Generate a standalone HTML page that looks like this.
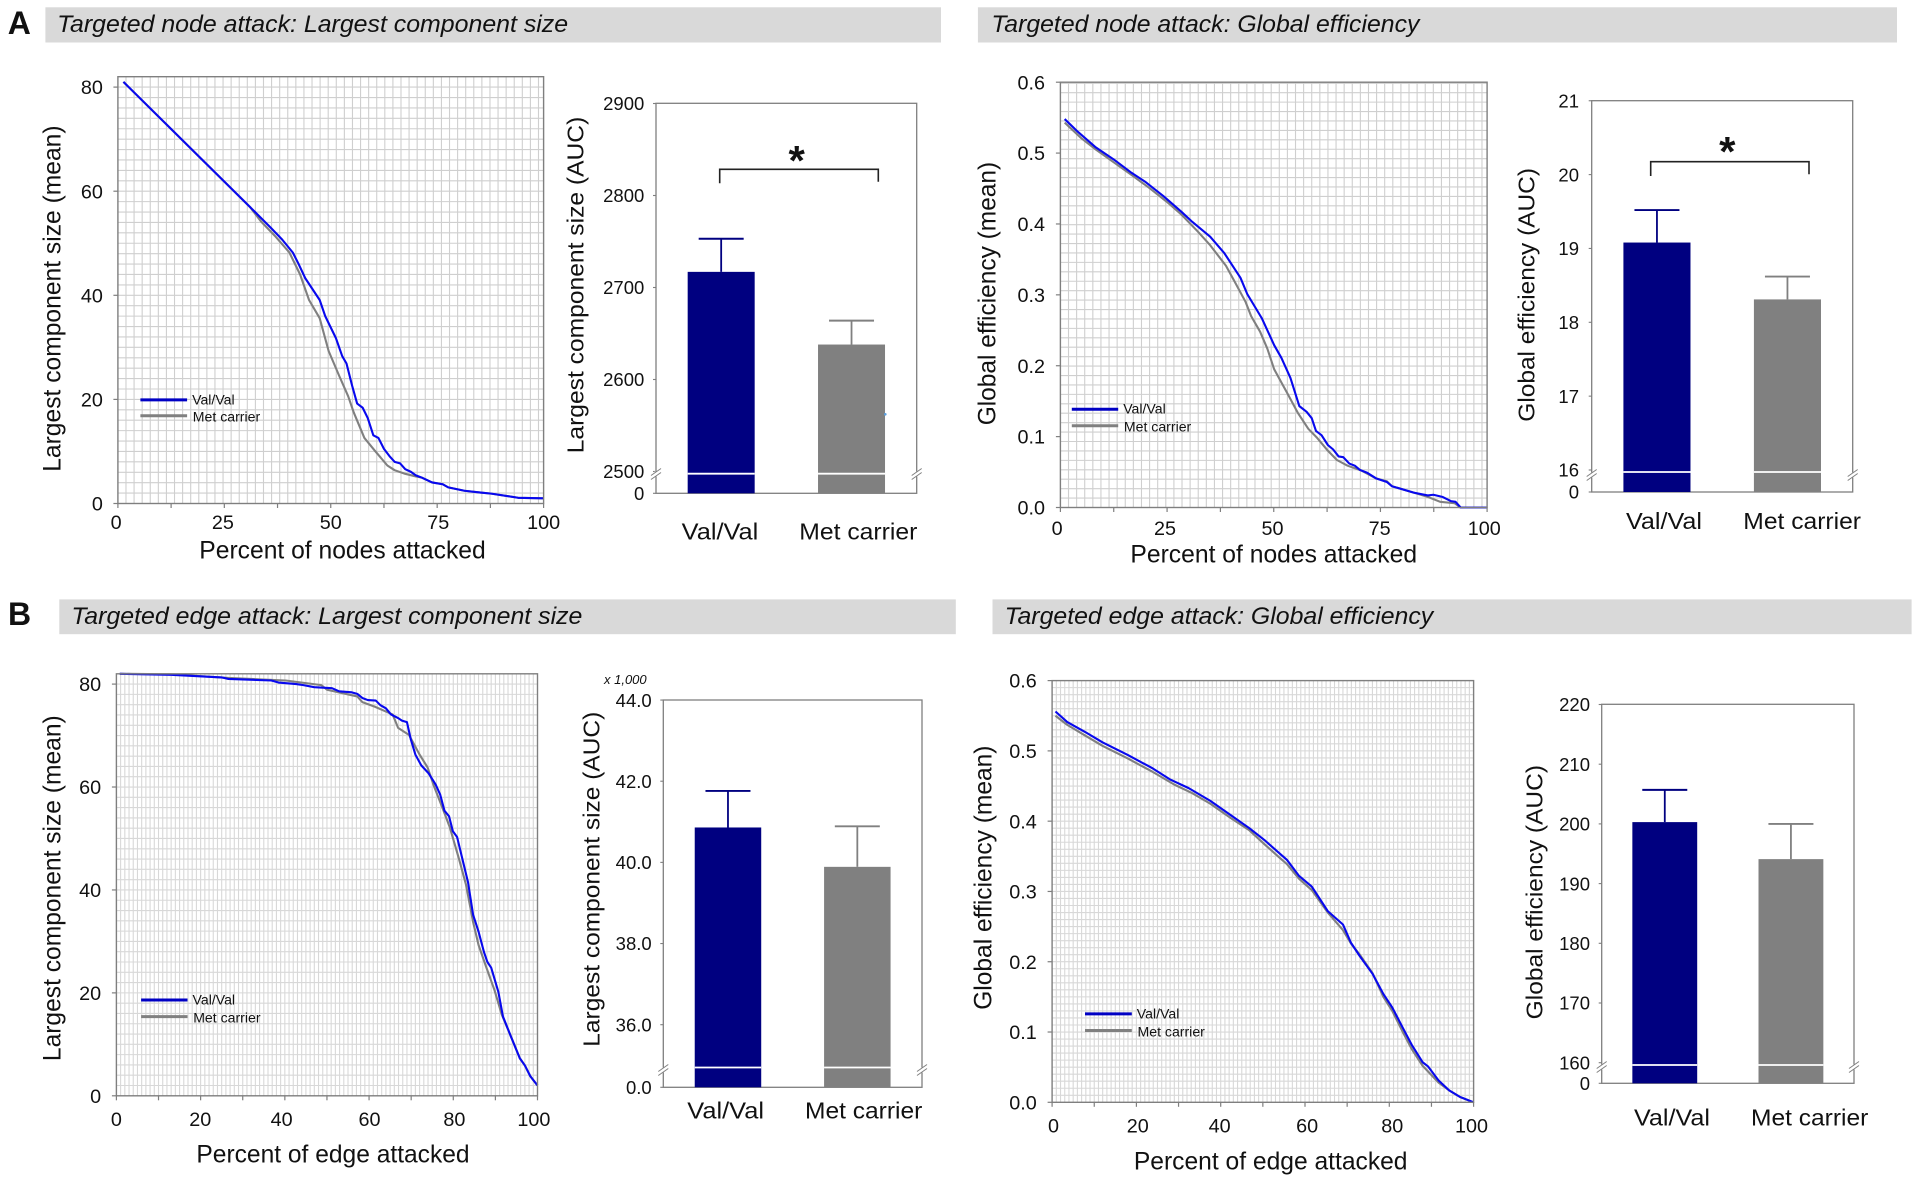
<!DOCTYPE html>
<html lang="en">
<head>
<meta charset="utf-8">
<title>Targeted attack network robustness</title>
<style>
html,body{margin:0;padding:0;background:#fff;width:1914px;height:1182px;overflow:hidden}
svg{display:block;filter:blur(.35px)}
text{font-family:"Liberation Sans",Arial,sans-serif;fill:#111}
</style>
</head>
<body>
<svg id="figure" xmlns="http://www.w3.org/2000/svg" width="1914" height="1182" viewBox="0 0 1914 1182">
<rect width="1914" height="1182" fill="#fff"/>
<text x="7.7" y="33.8" font-size="32" font-weight="700">A</text>
<text x="8" y="625.1" font-size="32" font-weight="700">B</text>
<rect x="45.4" y="7.3" width="895.6" height="35.2" fill="#d9d9d9"/>
<rect x="977.9" y="7.3" width="919.1" height="35.2" fill="#d9d9d9"/>
<rect x="59.3" y="599.4" width="896.5" height="34.8" fill="#d9d9d9"/>
<rect x="992.5" y="599.4" width="919.1" height="34.8" fill="#d9d9d9"/>
<text x="57.1" y="32" font-size="24" font-style="italic" textLength="511" lengthAdjust="spacingAndGlyphs">Targeted node attack: Largest component size</text>
<text x="991.4" y="32" font-size="24" font-style="italic" textLength="428" lengthAdjust="spacingAndGlyphs">Targeted node attack: Global efficiency</text>
<text x="71.4" y="624" font-size="24" font-style="italic" textLength="511" lengthAdjust="spacingAndGlyphs">Targeted edge attack: Largest component size</text>
<text x="1004.6" y="624" font-size="24" font-style="italic" textLength="428.6" lengthAdjust="spacingAndGlyphs">Targeted edge attack: Global efficiency</text>
</svg>
<script>
// ---------- shared labels ----------
const seriesNames = ['Val/Val', 'Met carrier'];
const barCategories = ['Val/Val', 'Met carrier'];

// ---------- A: node attack, largest component (line) ----------
const nodeSizeValPct = [1.3,31,36,38.6,41.1,42.4,44,47.4,48.7,51.2,52.7,53.7,55,56.2,57.5,58.7,60,61.2,62.5,63.8,65,66.3,67.5,68.8,70,71.3,73.8,76.3,77.6,81.4,85.2,87.7,94,100];
const nodeSizeVal = [81,57,52.9,50.7,48.2,46.1,43.3,39.1,36,31.8,28.3,26.9,22.7,19.2,18.4,16.4,13.1,12.6,10.5,9.1,8,7.7,6.6,6.1,5.4,5,4.05,3.7,3.1,2.45,2.1,1.9,1.1,1];
const nodeSizeMetPct = [1.3,31,33.6,36.9,40.3,42.8,44.9,47.4,49.5,52,54.1,55.4,57.9,60.4,63.3,65,67.5,70,71.3,73.8,76.3,77.6,81.4,85.2,87.7,94,100];
const nodeSizeMet = [81,57,54.2,51.4,48.2,44,39.1,35.6,29.3,24.5,20.6,17.5,12.6,10.1,7.3,6.4,5.7,5.2,5,4.05,3.7,3.1,2.45,2.1,1.9,1.1,1];
const nodeSizeYTicks = [0,20,40,60,80];
const nodeSizeXTicks = [0,12.5,25,37.5,50,62.5,75,87.5,100];
const nodeSizeXLabels = [0,25,50,75,100];

// ---------- A: node attack, largest component (bars) ----------
const nodeSizeAuc = [2717,2638];
const nodeSizeAucErr = [2753,2664];
const nodeSizeAucTicks = [2500,2600,2700,2800,2900];

// ---------- A: node attack, efficiency (line) ----------
const nodeEffValPct = [1,4.1,8.3,12.5,16.7,20,24.2,28.4,30.9,35.1,38.4,42.2,43.8,47.2,50.1,51.8,53.9,56,57.7,58.9,59.9,61.2,62.7,63.9,65.2,66.3,67.7,69,70.2,71.9,74,76.5,77.7,82.8,86.1,87.4,89.5,91.5,92.6,93.8,100];
const nodeEffVal = [.548,.53,.508,.491,.472,.459,.439,.417,.403,.382,.359,.324,.301,.267,.229,.211,.183,.143,.135,.126,.108,.102,.088,.082,.072,.071,.062,.059,.053,.049,.041,.036,.03,.021,.017,.018,.015,.009,.008,0,0];
const nodeEffMetPct = [1,4.9,8.3,12.5,16.7,20.8,25,28.4,32.1,35.1,38.8,40.9,43.4,44.7,46.8,48.5,50.1,53.1,55.6,58.1,60.2,62.7,64.8,67.3,70.6,74,76.5,77.7,82.8,86.1,89,92.4,93.8,100];
const nodeEffMet = [.543,.521,.505,.487,.469,.451,.431,.413,.39,.37,.341,.318,.29,.27,.248,.224,.195,.162,.134,.111,.098,.08,.067,.059,.052,.041,.037,.03,.021,.015,.008,.006,0,0];
const nodeEffYTicks = [0,.1,.2,.3,.4,.5,.6];
const nodeEffXTicks = [0,12.5,25,37.5,50,62.5,75,87.5,100];
const nodeEffXLabels = [0,25,50,75,100];

// ---------- A: node attack, efficiency (bars) ----------
const nodeEffAuc = [19.08,18.31];
const nodeEffAucErr = [19.52,18.62];
const nodeEffAucTicks = [16,17,18,19,20,21];

// ---------- B: edge attack, largest component (line) ----------
const edgeSizeValPct = [.8,13,25,26.6,36.8,38.5,42.7,44.4,47,51.2,52.9,55.9,57.2,58.4,59.7,61.6,62.7,64,65.2,66.9,67.8,69,69.9,71,72.4,74.1,75.8,76.9,77.9,79,79.9,80.9,82.2,83.5,84.7,86,87.3,88.1,89,90.7,91.8,93.6,95.8,97,98.3,100];
const edgeSizeVal = [82,81.8,81.3,81,80.7,80.3,80,79.8,79.4,79.2,78.6,78.4,78.1,77.3,76.9,76.8,75.9,75.3,74.1,73.4,72.9,72.6,69.3,66.3,64.2,62.7,60.5,58.5,55.4,54.3,51.4,50.3,45.9,41.5,35.2,31.9,27.9,26,24.9,20.2,15.4,11.7,7.3,5.9,3.8,2];
const edgeSizeMetPct = [.8,13,26.6,40.2,48.7,50,57.2,58.4,61.4,65.6,66.9,69.5,72,73.9,75.4,77.5,79.2,81.3,83,84.7,86,87.7,89.8,91.5,93.2,95.8,97,98.3,100];
const edgeSizeMet = [82,81.9,81.2,80.7,79.8,78.9,77.6,76.5,75.6,74.1,71.5,70.1,66.3,63.8,60.2,55.8,52.1,46.2,41.1,33.8,29.3,25.3,20.5,15.8,12.5,7.3,5.9,3.8,2];
const edgeSizeYTicks = [0,20,40,60,80];
const edgeSizeXTicks = [0,10,20,30,40,50,60,70,80,90,100];
const edgeSizeXLabels = [0,20,40,60,80,100];

// ---------- B: edge attack, largest component (bars) ----------
const edgeSizeAuc = [40.86,39.89];
const edgeSizeAucErr = [41.76,40.89];
const edgeSizeAucTicks = [36,38,40,42,44];

// ---------- B: edge attack, efficiency (line) ----------
const edgeEffValPct = [.8,3.6,7.8,12,18,23.9,28.1,32.4,37.5,42.5,46.8,50.6,53.6,55.7,58.6,61.6,65.4,69,70.9,73,76,78.6,80.7,83.2,85.3,87.9,89.2,91.7,94.2,96.8,100];
const edgeEffVal = [.556,.541,.527,.512,.494,.475,.459,.447,.429,.408,.39,.372,.356,.345,.322,.307,.272,.253,.227,.208,.183,.154,.135,.106,.082,.057,.051,.031,.017,.0075,0];
const edgeEffMetPct = [.8,3.6,7.8,12,18,23.9,29,33.2,37.5,42.5,46.8,50.6,53.6,55.7,58.6,61.6,65.4,69,70.9,73,76,78.6,80.7,83.2,85.3,87.9,91.7,94.2,96.8,100];
const edgeEffMet = [.55,.537,.522,.507,.489,.47,.452,.44,.425,.404,.387,.366,.35,.339,.318,.302,.27,.245,.226,.21,.184,.15,.13,.1,.076,.052,.028,.017,.0075,0];
const edgeEffYTicks = [0,.1,.2,.3,.4,.5,.6];
const edgeEffXTicks = [0,10,20,30,40,50,60,70,80,90,100];
const edgeEffXLabels = [0,20,40,60,80,100];

// ---------- B: edge attack, efficiency (bars) ----------
const edgeEffAuc = [200.3,194.1];
const edgeEffAucErr = [205.7,200];
const edgeEffAucTicks = [160,170,180,190,200,210,220];

// ---------- drawing ----------
const NS = 'http://www.w3.org/2000/svg';
const root = document.getElementById('figure');
const BLUE = '#0808ee', LEGEND_BLUE = '#0000c4', GREY = '#808080', NAVY = '#000080', AXIS = '#7f7f7f';

function make(parent, tag, name, attrs, content) {
  const el = document.createElementNS(NS, tag);
  
  
  for (const k in attrs) el.setAttribute(k, attrs[k]);
  if (content !== undefined) el.textContent = content;
  parent.appendChild(el);
  return el;
}
function line(parent, name, x1, y1, x2, y2, stroke, w) {
  return make(parent, 'line', name, {x1, y1, x2, y2, stroke, 'stroke-width': w});
}
function yTitle(parent, text, x, y0, y1, fs) {
  make(parent, 'text', 'y-axis-title', {
    x, y: y1, 'font-size': fs || 23.5, transform: 'rotate(-90 ' + x + ' ' + y1 + ')',
    textLength: y1 - y0, lengthAdjust: 'spacingAndGlyphs'
  }, text);
}

function lineChart(c) {
  const g = make(root, 'g', c.name, {});
  const x = v => c.left + (v / 100) * (c.right - c.left);
  const y = v => c.bottom - (v / c.yMax) * (c.bottom - c.top);
  make(g, 'rect', 'plot-background', {x: c.left, y: c.top, width: c.right - c.left, height: c.bottom - c.top, fill: '#fff'});
  const grid = make(g, 'g', 'grid-lines', {stroke: c.gridColor, 'stroke-width': c.gridWidth});
  for (let v = c.gridX; v < 100; v += c.gridX) {
    line(grid, 'vertical-grid-line', x(v), c.top, x(v), c.bottom, c.gridColor, c.gridWidth);
  }
  for (let v = c.gridY; v < c.yMax; v += c.gridY) {
    line(grid, 'horizontal-grid-line', c.left, y(v), c.right, y(v), c.gridColor, c.gridWidth);
  }
  make(g, 'polyline', 'series-met-carrier', {
    points: c.metPct.map((p, i) => x(p).toFixed(2) + ',' + y(c.met[i]).toFixed(2)).join(' '),
    fill: 'none', stroke: GREY, 'stroke-width': 2.1, 'stroke-linejoin': 'round'
  });
  make(g, 'polyline', 'series-val-val', {
    points: c.valPct.map((p, i) => x(p).toFixed(2) + ',' + y(c.val[i]).toFixed(2)).join(' '),
    fill: 'none', stroke: BLUE, 'stroke-width': 2.1, 'stroke-linejoin': 'round'
  });
  make(g, 'rect', 'plot-frame', {x: c.left, y: c.top, width: c.right - c.left, height: c.bottom - c.top, fill: 'none', stroke: AXIS, 'stroke-width': 1.4});
  c.yTicks.forEach(t => {
    line(g, 'y-tick', c.left - 4.5, y(t), c.left, y(t), AXIS, 1.2);
    make(g, 'text', 'y-tick-label', {x: c.labelRight, y: y(t) + 7.1, 'font-size': 19.8, 'text-anchor': 'end'}, c.yFmt(t));
  });
  c.xTicks.forEach(t => {
    line(g, 'x-tick', x(t), c.bottom, x(t), c.bottom + 4.5, AXIS, 1.2);
  });
  c.xLabels.forEach((t, i) => {
    make(g, 'text', 'x-tick-label', {x: x(t) + c.xNudge[i], y: c.xLabelY, 'font-size': 19.8, 'text-anchor': 'middle'}, String(t));
  });
  make(g, 'text', 'x-axis-title', {x: c.xTitle[0], y: c.xTitle[2], 'font-size': 25, textLength: c.xTitle[1] - c.xTitle[0], lengthAdjust: 'spacingAndGlyphs'}, c.xTitleText);
  yTitle(g, c.yTitleText, c.yTitle[0], c.yTitle[1], c.yTitle[2], 25);
  const lg = make(g, 'g', 'legend', {});
  line(lg, 'legend-swatch-val-val', c.legend.x0, c.legend.y0, c.legend.x1, c.legend.y0, LEGEND_BLUE, 3);
  line(lg, 'legend-swatch-met-carrier', c.legend.x0, c.legend.y1, c.legend.x1, c.legend.y1, GREY, 3);
  make(lg, 'text', 'legend-label-val-val', {x: c.legend.x1 + 5, y: c.legend.y0 + 4.4, 'font-size': 14.1}, seriesNames[0]);
  make(lg, 'text', 'legend-label-met-carrier', {x: c.legend.x1 + 5.7, y: c.legend.y1 + 5.9, 'font-size': 14.1}, seriesNames[1]);
}

function barChart(c) {
  const g = make(root, 'g', c.name, {});
  const w = c.right - c.left;
  const bx = i => c.left + w * (0.25 + 0.5 * i);
  const bw = w * 0.257;
  const y = v => c.y0 - (v - c.domain0) * c.k;
  const colors = [NAVY, GREY];
  make(g, 'rect', 'plot-frame', {x: c.left, y: c.top, width: w, height: c.bottom - c.top, fill: 'none', stroke: AXIS, 'stroke-width': 1.3});
  c.values.forEach((v, i) => {
    const name = i === 0 ? 'val-val' : 'met-carrier';
    line(g, 'error-stem-' + name, bx(i), y(c.errs[i]), bx(i), y(v), colors[i], 1.8);
    line(g, 'error-cap-' + name, bx(i) - 22.5, y(c.errs[i]), bx(i) + 22.5, y(c.errs[i]), colors[i], 1.9);
    make(g, 'rect', 'bar-' + name, {x: bx(i) - bw / 2, y: y(v), width: bw, height: c.bottom - y(v), fill: colors[i]});
    line(g, 'bar-break-' + name, bx(i) - bw / 2, c.breakY, bx(i) + bw / 2, c.breakY, '#fff', 1.8);
  });
  c.ticks.forEach(t => {
    line(g, 'y-tick', c.left - 3, y(t), c.left, y(t), AXIS, 1.1);
    make(g, 'text', 'y-tick-label', {x: c.labelRight, y: y(t) + 6.7, 'font-size': 18.5, 'text-anchor': 'end'}, c.fmt(t));
  });
  line(g, 'y-tick-zero', c.left - 3, c.bottom, c.left, c.bottom, AXIS, 1.1);
  make(g, 'text', 'y-tick-label-zero', {x: c.labelRight, y: c.bottom + 6.7, 'font-size': 18.5, 'text-anchor': 'end'}, c.zeroLabel);
  [c.left, c.right].forEach(ax => {
    make(g, 'rect', 'axis-break-gap', {x: ax - 1.5, y: c.breakMark - 2.5, width: 3, height: 5, fill: '#fff'});
    line(g, 'axis-break-mark', ax - 5, c.breakMark + 1.5, ax + 5, c.breakMark - 5.5, AXIS, 1);
    line(g, 'axis-break-mark', ax - 5, c.breakMark + 5.5, ax + 5, c.breakMark - 1.5, AXIS, 1);
  });
  barCategories.forEach((t, i) => {
    const p = c.cats[i];
    make(g, 'text', 'category-label', {x: p[0], y: c.catY, 'font-size': 23.5, textLength: p[1] - p[0], lengthAdjust: 'spacingAndGlyphs'}, t);
  });
  yTitle(g, c.yTitleText, c.yTitle[0], c.yTitle[1], c.yTitle[2]);
  if (c.bracket) {
    const b = c.bracket;
    make(g, 'polyline', 'significance-bracket', {
      points: b.x0 + ',' + b.yL + ' ' + b.x0 + ',' + b.y + ' ' + b.x1 + ',' + b.y + ' ' + b.x1 + ',' + b.yR,
      fill: 'none', stroke: '#222', 'stroke-width': 1.6
    });
    make(g, 'text', 'significance-asterisk', {x: b.ax, y: b.ay, 'font-size': 42, 'font-weight': 700, 'text-anchor': 'middle'}, '*');
  }
}

const f1 = t => t.toFixed(1);
const f0 = t => String(t);

lineChart({name: 'chart-node-size-curve', left: 117.9, right: 543.6, top: 76.7, bottom: 503.5, yMax: 82,
  gridX: 1.9, gridY: 2, gridColor: '#cfcfcf', gridWidth: 1.1,
  valPct: nodeSizeValPct, val: nodeSizeVal, metPct: nodeSizeMetPct, met: nodeSizeMet,
  yTicks: nodeSizeYTicks, xTicks: nodeSizeXTicks, xLabels: nodeSizeXLabels, xNudge: [-1.8,-1.4,0,1.1,0],
  yFmt: f0, labelRight: 102.9, xLabelY: 528.9, xTitleText: 'Percent of nodes attacked', xTitle: [199.3, 485.7, 558.7],
  yTitleText: 'Largest component size (mean)', yTitle: [60.7, 125.4, 471.8],
  legend: {x0: 140.4, x1: 187.1, y0: 399.9, y1: 415.8}});

barChart({name: 'chart-node-size-auc', left: 656, right: 916.7, top: 103.3, bottom: 493.3,
  domain0: 2500, y0: 471.5, k: 0.92, breakY: 473.7, breakMark: 474,
  values: nodeSizeAuc, errs: nodeSizeAucErr, ticks: nodeSizeAucTicks, fmt: f0, zeroLabel: '0', labelRight: 644.3,
  cats: [[681.7, 758.3], [799.3, 917.3]], catY: 539.3,
  yTitleText: 'Largest component size (AUC)', yTitle: [583.3, 116.7, 453.3],
  bracket: {x0: 719.7, x1: 878.3, y: 169.3, yL: 183.3, yR: 181.7, ax: 796.7, ay: 175}});
make(root, 'circle', 'stray-dot', {cx: 885.3, cy: 414.3, r: 1.3, fill: '#5aa0e0'});

lineChart({name: 'chart-node-efficiency-curve', left: 1060.4, right: 1487.1, top: 82.2, bottom: 507.5, yMax: 0.6,
  gridX: 1.9, gridY: 0.0133, gridColor: '#cfcfcf', gridWidth: 1.1,
  valPct: nodeEffValPct, val: nodeEffVal, metPct: nodeEffMetPct, met: nodeEffMet,
  yTicks: nodeEffYTicks, xTicks: nodeEffXTicks, xLabels: nodeEffXLabels, xNudge: [-3.3,-2.1,-1.3,-.8,-2.8],
  yFmt: f1, labelRight: 1045, xLabelY: 535.1, xTitleText: 'Percent of nodes attacked', xTitle: [1130.4, 1417.1, 562.3],
  yTitleText: 'Global efficiency (mean)', yTitle: [995.7, 161.8, 425.3],
  legend: {x0: 1071.8, x1: 1118.2, y0: 409.3, y1: 425.7}});

barChart({name: 'chart-node-efficiency-auc', left: 1591.7, right: 1852.7, top: 100.7, bottom: 492,
  domain0: 16, y0: 470, k: 73.85, breakY: 472, breakMark: 475,
  values: nodeEffAuc, errs: nodeEffAucErr, ticks: nodeEffAucTicks, fmt: f0, zeroLabel: '0', labelRight: 1579,
  cats: [[1626, 1702], [1743.3, 1861]], catY: 529,
  yTitleText: 'Global efficiency (AUC)', yTitle: [1534.3, 168, 421.7],
  bracket: {x0: 1650.7, x1: 1809, y: 161.7, yL: 176, yR: 174.3, ax: 1727.3, ay: 166}});

lineChart({name: 'chart-edge-size-curve', left: 116.4, right: 537.5, top: 673.8, bottom: 1095.8, yMax: 82,
  gridX: 1, gridY: 2, gridColor: '#d8d8d8', gridWidth: 1.1,
  valPct: edgeSizeValPct, val: edgeSizeVal, metPct: edgeSizeMetPct, met: edgeSizeMet,
  yTicks: edgeSizeYTicks, xTicks: edgeSizeXTicks, xLabels: edgeSizeXLabels, xNudge: [0,-.3,-3.2,.5,1.1,-3.6],
  yFmt: f0, labelRight: 101.1, xLabelY: 1126, xTitleText: 'Percent of edge attacked', xTitle: [196.4, 469.6, 1162.7],
  yTitleText: 'Largest component size (mean)', yTitle: [60.7, 715.3, 1061.1],
  legend: {x0: 141.1, x1: 187.5, y0: 1000, y1: 1016.6}});

barChart({name: 'chart-edge-size-auc', left: 663.3, right: 922, top: 700, bottom: 1087.3,
  domain0: 36, y0: 1024.7, k: 40.58, breakY: 1067.5, breakMark: 1070,
  values: edgeSizeAuc, errs: edgeSizeAucErr, ticks: edgeSizeAucTicks, fmt: f1, zeroLabel: '0.0', labelRight: 651.7,
  cats: [[687.3, 764], [805, 922.3]], catY: 1118.3,
  yTitleText: 'Largest component size (AUC)', yTitle: [599.3, 711.7, 1046.7]});
make(root, 'text', 'axis-multiplier-label', {x: 604, y: 684, 'font-size': 13, 'font-style': 'italic'}, 'x 1,000');

lineChart({name: 'chart-edge-efficiency-curve', left: 1052.1, right: 1473.6, top: 680.6, bottom: 1102.3, yMax: 0.6,
  gridX: 1, gridY: 0.01, gridColor: '#d8d8d8', gridWidth: 1.1,
  valPct: edgeEffValPct, val: edgeEffVal, metPct: edgeEffMetPct, met: edgeEffMet,
  yTicks: edgeEffYTicks, xTicks: edgeEffXTicks, xLabels: edgeEffXLabels, xNudge: [1.4,1.4,-1.1,2.1,2.9,-2.1],
  yFmt: f1, labelRight: 1036.8, xLabelY: 1132.5, xTitleText: 'Percent of edge attacked', xTitle: [1133.9, 1407.5, 1169.5],
  yTitleText: 'Global efficiency (mean)', yTitle: [991.4, 745.5, 1009.8],
  legend: {x0: 1085, x1: 1131.8, y0: 1013.9, y1: 1030.5}});

barChart({name: 'chart-edge-efficiency-auc', left: 1601.7, right: 1854, top: 704.3, bottom: 1083.3,
  domain0: 160, y0: 1062.7, k: 5.97, breakY: 1065, breakMark: 1067,
  values: edgeEffAuc, errs: edgeEffAucErr, ticks: edgeEffAucTicks, fmt: f0, zeroLabel: '0', labelRight: 1590,
  cats: [[1634, 1710], [1751, 1868.3]], catY: 1125.7,
  yTitleText: 'Global efficiency (AUC)', yTitle: [1542.7, 765, 1019.3]});
</script>
</body>
</html>
